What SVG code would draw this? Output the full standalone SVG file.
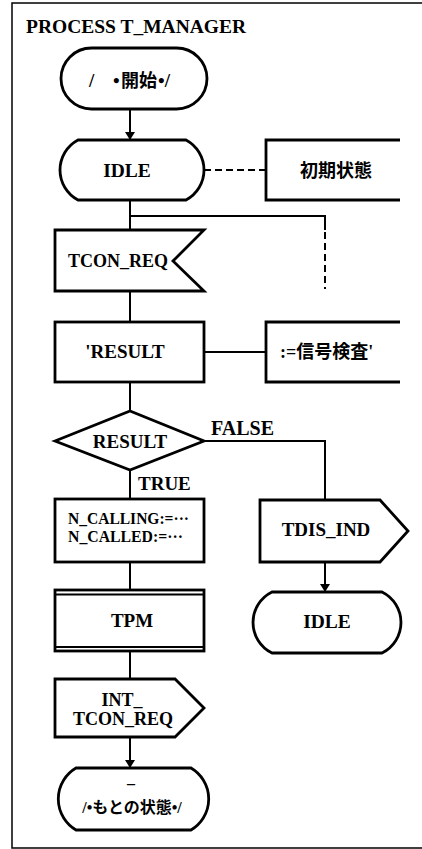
<svg xmlns="http://www.w3.org/2000/svg" width="422" height="849" viewBox="0 0 422 849">
<defs>
<style>
.frame{fill:none;stroke:#000;stroke-width:1.5}
.node{fill:#fff;stroke:#000;stroke-width:2.8;stroke-linejoin:miter}
.open{fill:none;stroke:#000;stroke-width:2.8}
.ln{fill:none;stroke:#000;stroke-width:2}
.dash{fill:none;stroke:#000;stroke-width:2;stroke-dasharray:7,4}
text{font-family:"Liberation Serif","Noto Sans CJK JP",serif;font-weight:bold;fill:#000;font-size:19px}
.c{text-anchor:middle}
.jp{font-family:"Noto Sans CJK JP","Liberation Serif",sans-serif;font-weight:bold;text-anchor:middle}
</style>
<marker id="arr" markerWidth="8" markerHeight="10" refX="8" refY="5" orient="auto" markerUnits="userSpaceOnUse">
<path d="M0,0 L8,5 L0,10 Z" fill="#000"/>
</marker>
</defs>
<rect width="422" height="849" fill="#fff"/>
<path class="frame" d="M422,3 H12 V848 H422"/>
<text x="26" y="33" style="font-size:19.5px">PROCESS T_MANAGER</text>

<g id="connectors">
<line class="ln" x1="130" y1="109" x2="130" y2="140" marker-end="url(#arr)"/>
<line class="dash" x1="204" y1="170" x2="266" y2="170"/>
<line class="ln" x1="130" y1="200" x2="130" y2="230"/>
<path class="ln" d="M130,216 H325 V230"/>
<line class="dash" x1="325" y1="232" x2="325" y2="289"/>
<line class="ln" x1="130" y1="291" x2="130" y2="322"/>
<line class="ln" x1="204" y1="352" x2="266" y2="352"/>
<line class="ln" x1="130" y1="382" x2="130" y2="411"/>
<path class="ln" d="M204,441 H325 V500"/>
<line class="ln" x1="130" y1="470" x2="130" y2="499"/>
<line class="ln" x1="325" y1="562" x2="325" y2="592" marker-end="url(#arr)"/>
<line class="ln" x1="130" y1="562" x2="130" y2="590"/>
<line class="ln" x1="130" y1="651" x2="130" y2="679"/>
<line class="ln" x1="130" y1="737" x2="130" y2="768" marker-end="url(#arr)"/>
<text x="211" y="435" style="font-size:20px">FALSE</text>
<text x="138" y="490">TRUE</text>
</g>

<g id="start">
<rect class="node" x="61" y="48" width="146" height="61" rx="30.5" ry="30.5"/>
<text y="87"><tspan x="89">/</tspan><tspan x="113">•</tspan><tspan x="121" font-family="Noto Sans CJK JP" style="font-size:18px">開始</tspan><tspan x="158">•/</tspan></text>
</g>

<g id="idle1">
<path class="node" d="M78,140 H186 A34,34 0 0 1 186,200 H78 A34,34 0 0 1 78,140 Z"/>
<text class="c" x="127" y="177" style="font-size:19.5px">IDLE</text>
</g>

<g id="comment-initial">
<path class="open" d="M400,140 H266 V200 H400"/>
<text class="jp" x="336" y="177" style="font-size:18px">初期状態</text>
</g>

<g id="tcon-req">
<path class="node" d="M55,230 H204 L173,261 L204,291 H55 Z"/>
<text x="68" y="267" style="font-size:18px">TCON_REQ</text>
</g>

<g id="result-decl">
<rect class="node" x="55" y="322" width="149" height="60"/>
<text class="c" x="125" y="358">'RESULT</text>
</g>

<g id="comment-check">
<path class="open" d="M400,322 H266 V382 H400"/>
<text x="280" y="358" style="font-size:18px"><tspan>:=</tspan><tspan font-family="Noto Sans CJK JP">信号検査</tspan><tspan>'</tspan></text>
</g>

<g id="decision">
<path class="node" d="M55,441 L130,411 L204,441 L130,470 Z"/>
<text class="c" x="130" y="448">RESULT</text>
</g>

<g id="task">
<rect class="node" x="55" y="499" width="149" height="63"/>
<text x="68" y="524" style="font-size:16px" textLength="121" lengthAdjust="spacingAndGlyphs">N_CALLING:=···</text>
<text x="68" y="542" style="font-size:16px" textLength="115" lengthAdjust="spacingAndGlyphs">N_CALLED:=···</text>
</g>

<g id="tdis-ind">
<path class="node" d="M260,500 H380 L408,531 L380,562 H260 Z"/>
<text class="c" x="326" y="536">TDIS_IND</text>
</g>

<g id="idle2">
<path class="node" d="M272,592 H382 A34,34 0 0 1 382,653 H272 A34,34 0 0 1 272,592 Z"/>
<text class="c" x="327" y="628" style="font-size:19.5px">IDLE</text>
</g>

<g id="tpm">
<rect class="node" x="55" y="590" width="149" height="61"/>
<line class="ln" x1="55" y1="594.5" x2="204" y2="594.5" stroke-width="1.5"/>
<line class="ln" x1="55" y1="647" x2="204" y2="647" stroke-width="1.5"/>
<text class="c" x="132" y="627">TPM</text>
</g>

<g id="int-tcon-req">
<path class="node" d="M55,679 H175 L204,708 L175,737 H55 Z"/>
<text class="c" x="122" y="706" style="font-size:18px">INT_</text>
<text class="c" x="123" y="725" style="font-size:18px">TCON_REQ</text>
</g>

<g id="prev-state">
<path class="node" d="M76,768 H191 A36,36 0 0 1 191,830 H76 A36,36 0 0 1 76,768 Z"/>
<text class="c" x="131" y="789" style="font-size:16px">–</text>
<text class="c" x="132" y="813" style="font-size:16px"><tspan>/•</tspan><tspan font-family="Noto Sans CJK JP">もとの状態</tspan><tspan>•/</tspan></text>
</g>
</svg>
